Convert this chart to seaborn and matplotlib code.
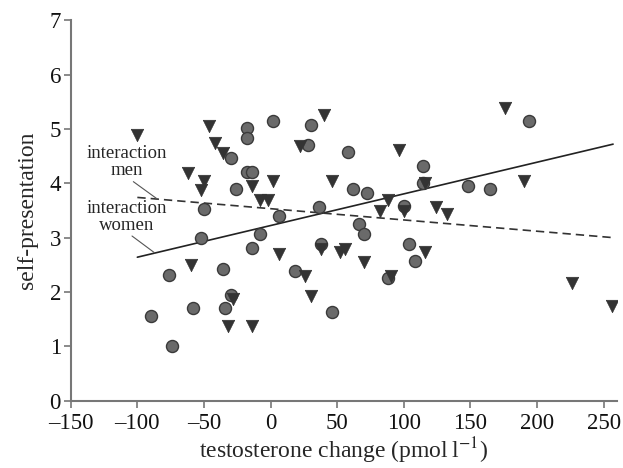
import numpy as np
import pandas as pd
import matplotlib
matplotlib.use("Agg")
import matplotlib.pyplot as plt
import seaborn as sns

# hombres (triangulos)
men_x = [-100, -46, -42, -36, -62, -50, -52, -14, 2, -8, -2, 22, 40, 46,
         176, 96, 190, 116, 88, 82, 100, 124, 132,
         -60, 6, 26, -28, 30, -32, -14, 38, 52, 56, 70, 116, 90, 226, 256]
men_y = [4.88, 5.05, 4.75, 4.55, 4.19, 4.05, 3.88, 3.95, 4.05, 3.69, 3.69, 4.69, 5.25, 4.05,
         5.38, 4.61, 4.05, 4.00, 3.69, 3.49, 3.49, 3.56, 3.43,
         2.50, 2.69, 2.30, 1.88, 1.93, 1.37, 1.37, 2.80, 2.74, 2.80, 2.56, 2.74, 2.29, 2.17, 1.74]

# mujeres (circulos)
women_x = [2, -18, -18, 30, 28, -30, -18, -14, -26, -50, 36, 6,
           194, 58, 114, 114, 62, 72, 148, 165, 100,
           -52, -8, -14, -36, -76, 18, -30, -58, -34, -90, -74, 38, 46,
           66, 70, 104, 108, 88]
women_y = [5.14, 5.01, 4.83, 5.07, 4.70, 4.46, 4.20, 4.20, 3.89, 3.52, 3.57, 3.40,
           5.14, 4.57, 4.32, 4.01, 3.89, 3.83, 3.95, 3.89, 3.58,
           3.00, 3.07, 2.81, 2.43, 2.31, 2.38, 1.94, 1.70, 1.70, 1.56, 1.01, 2.89, 1.64,
           3.26, 3.07, 2.88, 2.57, 2.25]

# lineas de interaccion
line_x = [-100, 257]
women_line = [2.64, 4.72]
men_line = [3.74, 3.00]

sns.set_style("ticks")
plt.rcParams['font.family'] = ['Liberation Serif', 'DejaVu Serif']
plt.rcParams['mathtext.fontset'] = 'stix'

fig = plt.figure(figsize=(6.23, 4.68), dpi=100)
ax = fig.add_axes([0.1135, 0.1438, 0.877, 0.813])

sns.scatterplot(x=women_x, y=women_y, marker='o', s=75, color='#6a6a6a',
                edgecolor='#3a3a3a', linewidth=1.0, ax=ax, zorder=3)
sns.scatterplot(x=men_x, y=men_y, marker='v', s=80, color='#333333',
                edgecolor='#333333', linewidth=0.5, ax=ax, zorder=3)
sns.lineplot(x=line_x, y=women_line, color='#222222', linewidth=1.2, ax=ax, zorder=2)
sns.lineplot(x=line_x, y=men_line, color='#333333', linewidth=1.2,
             linestyle=(0, (5, 3)), ax=ax, zorder=2)

ax.set_xlim(-150, 260)
ax.set_ylim(0, 7)
ax.set_xticks(np.arange(-150, 251, 50))
ax.set_yticks(range(0, 8))
ax.set_xticklabels(['\u2013150', '\u2013100', '\u201350', '0', '50', '100', '150', '200', '250'])
ax.tick_params(labelsize=16.5, length=5, width=1.2, color='#777777', colors='#111111')
ax.tick_params(axis='x', pad=4)
ax.tick_params(axis='y', pad=2)
for s in ['left', 'bottom']:
    ax.spines[s].set_color('#777777')
    ax.spines[s].set_linewidth(1.5)
sns.despine(ax=ax)

ax.set_xlabel('testosterone change (pmol\u2009l$^{\u22121}$)', fontsize=17, labelpad=1)
ax.set_ylabel('self-presentation', fontsize=17, labelpad=8)

ax.text(-108, 4.40, 'interaction\nmen', fontsize=13.5, ha='center', va='center', linespacing=1.0)
ax.plot([-103, -85], [4.03, 3.71], color='#555555', linewidth=0.8)
ax.text(-108, 3.38, 'interaction\nwomen', fontsize=13.5, ha='center', va='center', linespacing=1.0)
ax.plot([-104, -87], [3.03, 2.72], color='#555555', linewidth=0.8)

fig.savefig('out.png', dpi=100)
